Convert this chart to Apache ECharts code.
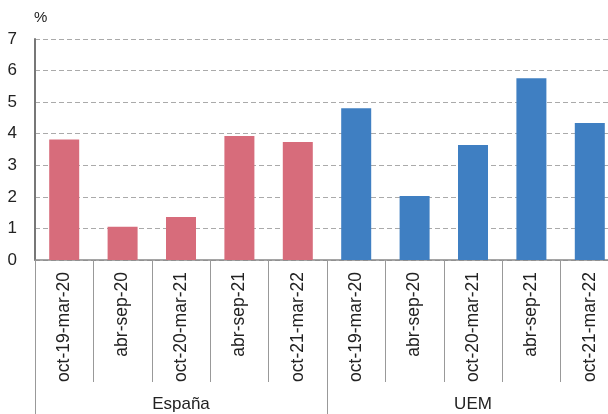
<!DOCTYPE html>
<html>
<head>
<meta charset="utf-8">
<script src="https://cdn.jsdelivr.net/npm/echarts@6/dist/echarts.min.js"></script>
<style>html,body{margin:0;padding:0;background:#fff;}#c{width:608px;height:414px;}</style>
</head>
<body>
<div id="c"></div>
<script>
var categories = ['oct-19-mar-20','abr-sep-20','oct-20-mar-21','abr-sep-21','oct-21-mar-22',
                  'oct-19-mar-20','abr-sep-20','oct-20-mar-21','abr-sep-21','oct-21-mar-22'];
var groups = ['España', 'UEM'];
var espana = [3.82, 1.05, 1.36, 3.93, 3.74];
var uem = [4.81, 2.03, 3.64, 5.76, 4.34];
var yTicks = [0, 1, 2, 3, 4, 5, 6, 7];

var espanaData = espana.concat(uem.map(function(){return '-';}));
var uemData = espana.map(function(){return '-';}).concat(uem);

var chart = echarts.init(document.getElementById('c'), null, {renderer: 'canvas'});
var font = 'Liberation Sans, Arial, Helvetica, sans-serif';
chart.setOption({
  animation: false,
  grid: {left: 35, right: -11, top: 39, bottom: 154, containLabel: false, outerBoundsMode: 'none'},
  xAxis: [{
    type: 'category',
    data: categories,
    position: 'bottom',
    axisLine: {show: true, lineStyle: {color: '#888', width: 1.5}},
    axisTick: {show: true, interval: 0, length: 122, lineStyle: {color: '#999', width: 1}},
    axisLabel: {interval: 0, rotate: 90, margin: 12, fontSize: 17.5, color: '#222', fontFamily: font},
    splitLine: {show: false}
  }, {
    type: 'category',
    data: groups,
    position: 'bottom',
    axisLine: {show: false},
    axisTick: {show: true, interval: 0, length: 154, lineStyle: {color: '#999', width: 1}},
    axisLabel: {interval: 0, margin: 136, fontSize: 17, color: '#222', fontFamily: font},
    splitLine: {show: false}
  }],
  yAxis: {
    type: 'value',
    min: yTicks[0], max: yTicks[yTicks.length - 1], interval: 1,
    name: '%',
    nameLocation: 'end',
    nameGap: 14,
    nameTextStyle: {fontSize: 15, color: '#222', fontFamily: font, align: 'left', padding: [0, 0, 0, -1]},
    axisLine: {show: true, lineStyle: {color: '#777', width: 2}},
    axisTick: {show: false},
    axisLabel: {fontSize: 17, color: '#222', fontFamily: font, margin: 18},
    splitLine: {show: true, lineStyle: {color: '#aaa', type: [5, 3], width: 1}}
  },
  series: [{
    name: 'España', type: 'bar', data: espanaData, xAxisIndex: 0,
    barWidth: 30, barGap: '-100%',
    itemStyle: {color: '#D76C7B'}
  }, {
    name: 'UEM', type: 'bar', data: uemData, xAxisIndex: 0,
    barWidth: 30, barGap: '-100%',
    itemStyle: {color: '#3F7FC2'}
  }]
});
</script>
</body>
</html>
